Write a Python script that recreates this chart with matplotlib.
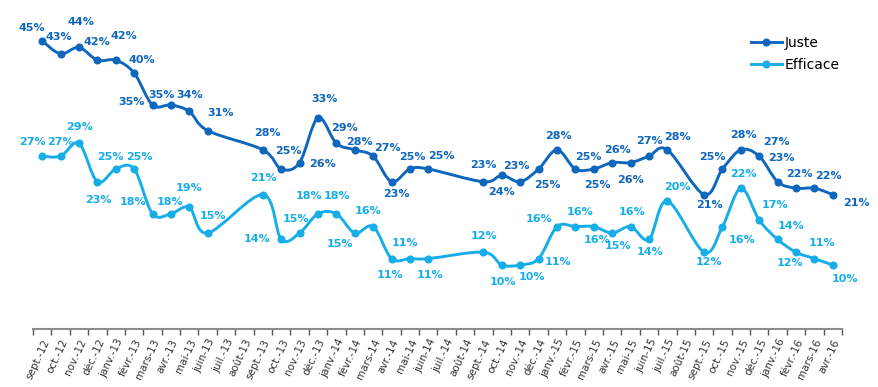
import numpy as np
import matplotlib; matplotlib.use('Agg'); import matplotlib.pyplot as plt
from matplotlib.path import Path
from matplotlib.patches import PathPatch

months = ['sept.-12', 'oct.-12', 'nov.-12', 'déc.-12', 'janv.-13', 'févr.-13', 'mars-13', 'avr.-13', 'mai-13',
          'juin-13', 'juil.-13', 'août-13', 'sept.-13', 'oct.-13', 'nov.-13', 'déc.-13', 'janv.-14', 'févr.-14',
          'mars-14', 'avr.-14', 'mai-14', 'juin-14', 'juil.-14', 'août-14', 'sept.-14', 'oct.-14', 'nov.-14',
          'déc.-14', 'janv.-15', 'févr.-15', 'mars-15', 'avr.-15', 'mai-15', 'juin-15', 'juil.-15', 'août-15',
          'sept.-15', 'oct.-15', 'nov.-15', 'déc.-15', 'janv.-16', 'févr.-16', 'mars-16', 'avr.-16']
juste = [45, 43, 44, 42, 42, 40, 35, 35, 34, 31, None, None, 28, 25, 26, 33, 29, 28, 27, 23, 25, 25, None, None,
         23, 24, 23, 25, 28, 25, 25, 26, 26, 27, 28, None, 21, 25, 28, 27, 23, 22, 22, 21]
efficace = [27, 27, 29, 23, 25, 25, 18, 18, 19, 15, None, None, 21, 14, 15, 18, 18, 15, 16, 11, 11, 11, None, None,
            12, 10, 10, 11, 16, 16, 16, 15, 16, 14, 20, None, 12, 16, 22, 17, 14, 12, 11, 10]

# label offsets in pixels (dx, dy with dy down), one per non-missing point
off_juste = [(-10, -13), (-2, -17), (2, -25), (0, -18), (8, -24), (8, -13), (-21, -3), (-9, -10), (0, -16), (13, -18),
             (5, -17), (7, -18), (23, 1), (7, -19), (8, -15), (5, -8), (14, -8), (5, 12), (2, -12), (13, -13),
             (0, -17), (0, 17), (-4, -16), (9, 16), (1, -14), (13, -12), (4, 16), (5, -13), (0, 17), (0, -15),
             (10, -13), (5, 10), (-10, -12), (3, -15), (17, -14), (4, -24), (3, -14), (14, -12), (24, 8)]
off_eff = [(-10, -14), (0, -14), (1, -16), (1, 18), (-5, -12), (5, -12), (-20, -12), (-1, -12), (0, -19), (5, -17),
           (1, -17), (-24, 0), (-4, -14), (-9, -18), (1, -18), (-15, 11), (-5, -16), (-2, 16), (-5, -16), (2, 16),
           (1, -16), (1, 17), (12, 12), (19, 3), (-18, -8), (5, -15), (3, 13), (6, 13), (2, -15), (1, 13),
           (10, -14), (5, 10), (20, 13), (3, -14), (16, -15), (13, -13), (-6, 11), (8, -16), (12, 14)]

def smooth_path(xs, ys):  # catmull-rom -> cubic bezier, like excel smoothed lines
    p = np.column_stack([xs, ys]).astype(float)
    verts, codes = [p[0]], [Path.MOVETO]
    for i in range(len(p) - 1):
        p0 = p[max(i - 1, 0)]; p1 = p[i]; p2 = p[i + 1]; p3 = p[min(i + 2, len(p) - 1)]
        verts += [p1 + (p2 - p0) / 6, p2 - (p3 - p1) / 6, p2]; codes += [Path.CURVE4] * 3
    return Path(verts, codes)

fig = plt.figure(figsize=(8.79, 3.87), dpi=100)
ax = fig.add_axes([33 / 879, 1 - 329 / 387, 809 / 879, 320 / 387])
for name, vals, offs, col in [('Juste', juste, off_juste, '#0f66bd'), ('Efficace', efficace, off_eff, '#16ade8')]:
    xs = [i for i, v in enumerate(vals) if v is not None]; ys = [v for v in vals if v is not None]
    ax.add_patch(PathPatch(smooth_path(xs, ys), fc='none', ec=col, lw=2.1, capstyle='round', zorder=2))
    ax.plot(xs, ys, 'o', color=col, ms=4.8, zorder=3)
    ax.plot([], [], '-o', color=col, lw=2.1, ms=4.8, label=name)
    for x, y, (dx, dy) in zip(xs, ys, offs):
        ax.annotate(f"{y}%", (x, y), xytext=(dx, -dy), textcoords='offset pixels', ha='center', va='center',
                    fontsize=8, weight='bold', color=col)

ax.set_xlim(-0.5, len(months) - 0.5); ax.set_ylim(0, 50)
ax.set_xticks(range(len(months))); ax.set_xticklabels(months, rotation=65, ha='right', rotation_mode='anchor',
                                                      fontsize=7.5, color='#333333')
ax.set_xticks(np.arange(len(months) + 1) - 0.5, minor=True)
ax.tick_params(axis='x', which='major', length=0, pad=6)
ax.tick_params(axis='x', which='minor', length=4, width=1, color='#555555')
ax.set_yticks([])
for s in ['top', 'right', 'left']: ax.spines[s].set_visible(False)
ax.spines['bottom'].set_color('#8c8c8c'); ax.spines['bottom'].set_linewidth(1.5)
fig.legend(loc='upper left', bbox_to_anchor=(751 / 879, 1 - 36 / 387), frameon=False, fontsize=10,
           handlelength=2.2, handletextpad=0.2, labelspacing=0.6, borderpad=0, borderaxespad=0)
fig.savefig('out.png', dpi=100)
